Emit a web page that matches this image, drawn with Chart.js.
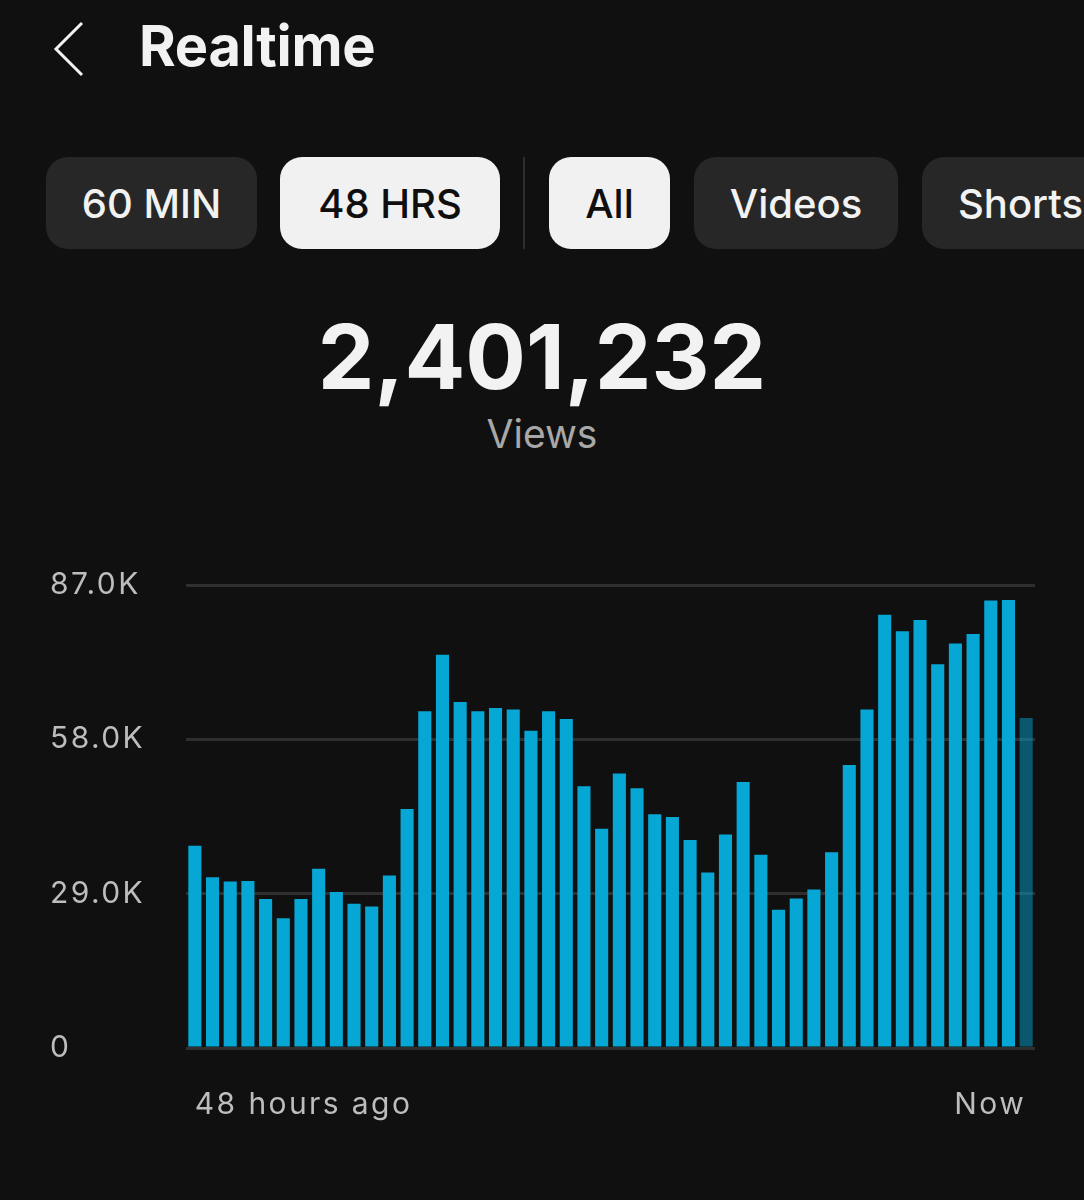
<!DOCTYPE html>
<html>
<head>
<meta charset="utf-8">
<script src="https://cdn.jsdelivr.net/npm/chart.js@4/dist/chart.umd.min.js"></script>
<style>
    html, body {
        margin: 0;
        padding: 0;
        background: #101010;
        width: 1084px;
        height: 1200px;
        overflow: hidden;
        font-family: Inter, 'Noto Sans', sans-serif;
        color: #f2f2f2;
    }
    .back {
        position: absolute;
        left: 50px;
        top: 20px;
        width: 40px;
        height: 58px;
    }
    .title {
        position: absolute;
        left: 139px;
        top: 12px;
        font-size: 56px;
        font-weight: 700;
        letter-spacing: -0.3px;
    }
    .pill {
        position: absolute;
        top: 157px;
        height: 92px;
        border-radius: 22px;
        background: #272727;
        color: #f2f2f2;
        font-size: 40px;
        font-weight: 500;
        display: flex;
        align-items: center;
        justify-content: center;
        white-space: nowrap;
    }
    .pill.active {
        background: #f1f1f1;
        color: #0f0f0f;
    }
    .divider {
        position: absolute;
        left: 523px;
        top: 157px;
        width: 2px;
        height: 92px;
        background: #2e2e2e;
    }
    .total {
        position: absolute;
        left: 0;
        width: 1084px;
        top: 302px;
        text-align: center;
        font-size: 90px;
        font-weight: 700;
    }
    .total-label {
        position: absolute;
        left: 0;
        width: 1084px;
        top: 410px;
        text-align: center;
        font-size: 39px;
        color: #a8a8a8;
    }
    .chart-box {
        position: absolute;
        left: 0;
        top: 540px;
        width: 1084px;
        height: 642px;
    }
</style>
</head>
<body>
<svg class="back" viewBox="0 0 40 58">
    <polyline points="32,3 6,29 32,55" fill="none" stroke="#f2f2f2" stroke-width="3"/>
</svg>
<div class="title">Realtime</div>

<div class="pill" style="left:46px;width:211px;">60 MIN</div>
<div class="pill active" style="left:280px;width:220px;">48 HRS</div>
<div class="divider"></div>
<div class="pill active" style="left:549px;width:121px;">All</div>
<div class="pill" style="left:694px;width:204px;">Videos</div>
<div class="pill" style="left:922px;width:200px;justify-content:flex-start;padding-left:36px;box-sizing:border-box;">Shorts</div>

<div class="total">2,401,232</div>
<div class="total-label">Views</div>

<div class="chart-box"><canvas id="viewsChart"></canvas></div>

<script>
// hourly views over the last 48 hours (oldest first), last hour still in progress
const hoursAgo = [48, 47, 46, 45, 44, 43, 42, 41, 40, 39, 38, 37, 36, 35, 34, 33,
                  32, 31, 30, 29, 28, 27, 26, 25, 24, 23, 22, 21, 20, 19, 18, 17,
                  16, 15, 14, 13, 12, 11, 10, 9, 8, 7, 6, 5, 4, 3, 2, 1];
const hourlyViews = [38000, 32100, 31300, 31400, 28000, 24400, 28000, 33700,
                     29300, 27100, 26600, 32400, 44900, 63300, 73900, 65000,
                     63300, 63900, 63600, 59600, 63300, 61800, 49200, 41200,
                     51600, 48800, 43900, 43400, 39100, 33000, 40100, 50000,
                     36300, 26000, 28100, 29800, 36800, 53200, 63600, 81400,
                     78300, 80400, 72100, 76000, 77800, 84100, 84200, 62000];
const yTicks = [0, 29000, 58000, 87000];
const edgeLabels = ['48 hours ago', 'Now'];

const barColor = '#07a7d5';
const partialColor = 'rgba(7, 167, 213, 0.48)';

// axis text in the app is tracked out a bit
const letterSpacingPlugin = {
    id: 'letterSpacing',
    beforeDraw(chart) {
        chart.ctx.letterSpacing = '2.4px';
    }
};

document.addEventListener('DOMContentLoaded', () => {
    const ctx = document.getElementById('viewsChart').getContext('2d');
    const lastIndex = hourlyViews.length - 1;

    window.viewsChart = new Chart(ctx, {
        type: 'bar',
        data: {
            labels: hoursAgo,
            datasets: [{
                label: 'Views',
                data: hourlyViews,
                backgroundColor: hourlyViews.map((_, i) => i === lastIndex ? partialColor : barColor),
                borderWidth: 0,
                barPercentage: 0.74,
                categoryPercentage: 1
            }]
        },
        plugins: [letterSpacingPlugin],
        options: {
            responsive: true,
            maintainAspectRatio: false,
            animation: false,
            layout: {
                padding: { left: 50, right: 49, top: 45, bottom: 28 }
            },
            plugins: {
                legend: { display: false },
                tooltip: { enabled: false }
            },
            scales: {
                x: {
                    grid: { display: false },
                    border: { display: false },
                    ticks: {
                        autoSkip: false,
                        maxRotation: 0,
                        align: 'inner',
                        padding: 31,
                        color: '#bdbdbd',
                        font: { family: 'Inter', size: 30 },
                        callback: (value, index) => {
                            if (index === 0) return edgeLabels[0];
                            if (index === lastIndex) return edgeLabels[1];
                            return '';
                        }
                    }
                },
                y: {
                    min: 0,
                    max: 87000,
                    afterBuildTicks: scale => {
                        scale.ticks = yTicks.map(v => ({ value: v }));
                    },
                    afterFit: scale => {
                        scale.width = 136;
                    },
                    grid: {
                        color: '#2f2f2f',
                        lineWidth: 3,
                        drawTicks: false
                    },
                    border: { display: false },
                    ticks: {
                        crossAlign: 'far',
                        color: '#bdbdbd',
                        font: { family: 'Inter', size: 30 },
                        callback: v => v === 0 ? '0' : (v / 1000).toFixed(1) + 'K'
                    }
                }
            }
        }
    });
});
</script>
</body>
</html>
